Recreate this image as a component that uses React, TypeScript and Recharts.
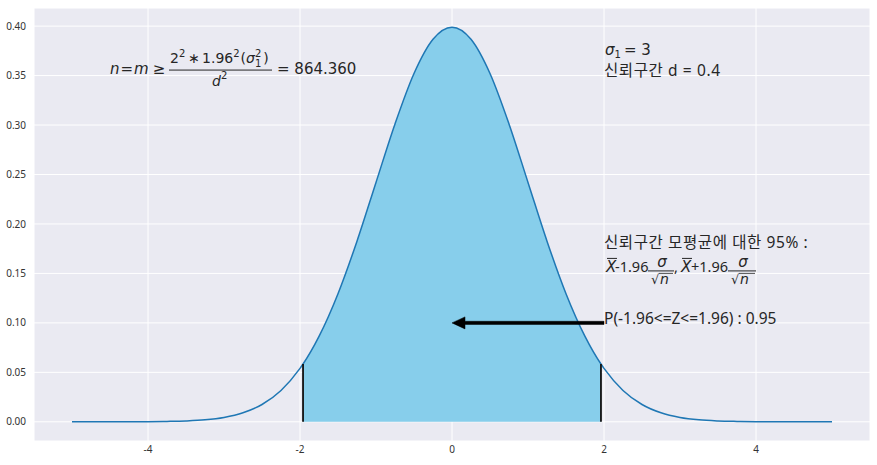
import React from "react";
import {
  ComposedChart,
  Line,
  Area,
  XAxis,
  YAxis,
  CartesianGrid,
  ReferenceLine,
  ReferenceDot,
} from "recharts";

// x values (z) and standard-normal density
const xs: number[] = [
  -5, -4.75, -4.5, -4.25, -4, -3.75, -3.5, -3.25, -3, -2.75, -2.5, -2.25, -2, -1.96,
  -1.75, -1.5, -1.25, -1, -0.75, -0.5, -0.25, 0, 0.25, 0.5, 0.75, 1, 1.25, 1.5, 1.75,
  1.96, 2, 2.25, 2.5, 2.75, 3, 3.25, 3.5, 3.75, 4, 4.25, 4.5, 4.75, 5,
];
const density: number[] = [
  0.0, 0.0, 0.0, 0.0, 0.0001, 0.0004, 0.0009, 0.002, 0.0044, 0.0091, 0.0175, 0.0317,
  0.054, 0.0584, 0.0863, 0.1295, 0.1826, 0.242, 0.3011, 0.3521, 0.3867, 0.3989, 0.3867,
  0.3521, 0.3011, 0.242, 0.1826, 0.1295, 0.0863, 0.0584, 0.054, 0.0317, 0.0175, 0.0091,
  0.0044, 0.002, 0.0009, 0.0004, 0.0001, 0.0, 0.0, 0.0, 0.0,
];
const zLow = -1.96;
const zHigh = 1.96;
const zHeight = 0.0584;
const arrowFrom = { x: 2, y: 0.1 };
const arrowTo = { x: 0, y: 0.1 };
const xTicks = [-4, -2, 0, 2, 4];
const yTicks = [0, 0.05, 0.1, 0.15, 0.2, 0.25, 0.3, 0.35, 0.4];
const yTickLabels = ["0.00", "0.05", "0.10", "0.15", "0.20", "0.25", "0.30", "0.35", "0.40"];
const probText = "P(-1.96<=Z<=1.96) : 0.95";
const sigmaLine2 = "신뢰구간 d = 0.4";
const ciLine1 = "신뢰구간 모평균에 대한 95% :";

const data = xs.map((x, i) => ({
  x,
  pdf: density[i],
  band: x >= zLow && x <= zHigh ? density[i] : null,
}));

const FONT = "'Noto Sans', 'Noto Sans CJK KR', sans-serif";
const MATH = "'DejaVu Sans', sans-serif";
const TXT = "#262626";

const Formula1 = (p: any) => {
  const { cx, cy } = p;
  const B = cy - 2;
  const base = { fontFamily: MATH, fontSize: 15, fill: TXT };
  const ny = cy - 12.5;
  return (
    <g>
      <text x={cx} y={B} {...base}>
        <tspan fontStyle="italic">n</tspan>
        <tspan dx={1}>=</tspan>
        <tspan dx={1} fontStyle="italic">m</tspan>
        <tspan dx={4}>≥</tspan>
      </text>
      <text x={cx + 60} y={ny} fontFamily={MATH} fontSize={14} fill={TXT}>
        <tspan>2</tspan>
        <tspan dy={-6.5} fontSize={10}>2</tspan>
        <tspan dy={6.5} dx={3}>∗</tspan>
        <tspan dx={2}>1.96</tspan>
        <tspan dy={-6.5} fontSize={10}>2</tspan>
        <tspan dy={6.5} dx={1}>(</tspan>
        <tspan fontStyle="italic">σ</tspan>
        <tspan dy={-6.5} fontSize={10}>2</tspan>
        <tspan dx={-6.4} dy={10.5} fontSize={10}>1</tspan>
        <tspan dx={2} dy={-4}>)</tspan>
      </text>
      <line x1={cx + 59} x2={cx + 162} y1={cy - 5.5} y2={cy - 5.5} stroke={TXT} strokeWidth={1} />
      <text x={cx + 102} y={cy + 10} fontFamily={MATH} fontSize={14} fill={TXT}>
        <tspan fontStyle="italic">d</tspan>
        <tspan dy={-6.5} fontSize={10}>2</tspan>
      </text>
      <text x={cx + 167} y={B} {...base}>= 864.360</text>
    </g>
  );
};

const SigmaBlock = (p: any) => {
  const { cx, cy } = p;
  return (
    <g>
      <text x={cx + 1} y={cy - 21} fontFamily={MATH} fontSize={15} fill={TXT}>
        <tspan fontStyle="italic">σ</tspan>
        <tspan dy={3.5} fontSize={10}>1</tspan>
        <tspan dy={-3.5} dx={3}>= 3</tspan>
      </text>
      <text x={cx} y={cy} fontFamily={FONT} fontSize={15.5} letterSpacing={0.6} fill={TXT}>
        {sigmaLine2}
      </text>
    </g>
  );
};

const Frac = ({ x, y, w }: any) => {
  const m = { fontFamily: MATH, fill: TXT };
  return (
    <g>
      <text x={x + w / 2 + 1} y={y - 5} {...m} fontSize={15} fontStyle="italic" textAnchor="middle">σ</text>
      <line x1={x} x2={x + w} y1={y - 1.5} y2={y - 1.5} stroke={TXT} strokeWidth={1} />
      <text x={x + 3} y={y + 12} {...m} fontSize={13}>√</text>
      <line x1={x + 11} x2={x + w - 1} y1={y + 1} y2={y + 1} stroke={TXT} strokeWidth={0.8} />
      <text x={x + 12} y={y + 12} {...m} fontSize={14} fontStyle="italic">n</text>
    </g>
  );
};

const CIBlock = (p: any) => {
  const { cx, cy } = p;
  const B = cy - 1;
  const m = { fontFamily: MATH, fontSize: 15, fill: TXT };
  const r = { fontFamily: FONT, fontSize: 14.5, fill: TXT };
  return (
    <g>
      <text x={cx} y={cy - 25} fontFamily={FONT} fontSize={15.5} letterSpacing={0.6} fill={TXT}>
        {ciLine1}
      </text>
      <text x={cx + 2} y={B} {...m} fontStyle="italic">X</text>
      <line x1={cx + 3} x2={cx + 13} y1={B - 14} y2={B - 14} stroke={TXT} strokeWidth={1} />
      <text x={cx + 11} y={B} {...r}>-1.96</text>
      <Frac x={cx + 44} y={B} w={26} />
      <text x={cx + 70} y={B} {...r}>,</text>
      <text x={cx + 77} y={B} {...m} fontStyle="italic">X</text>
      <line x1={cx + 78} x2={cx + 88} y1={B - 14} y2={B - 14} stroke={TXT} strokeWidth={1} />
      <text x={cx + 87} y={B} {...r}>+1.96</text>
      <Frac x={cx + 124} y={B} w={28} />
    </g>
  );
};

const ProbLabel = (p: any) => {
  const { cx, cy } = p;
  return (
    <text x={cx} y={cy + 1.5} fontFamily={FONT} fontSize={15.5} fill={TXT}>
      {probText}
    </text>
  );
};

const Arrow = (p: any) => {
  const { x1, y1, x2, y2 } = p;
  const head = 13;
  const hw = 6;
  const sw = 1.6;
  const dir = x2 < x1 ? 1 : -1;
  const hb = x2 + dir * head;
  const pts = [
    [x1, y1 - sw],
    [hb, y2 - sw],
    [hb, y2 - hw],
    [x2, y2],
    [hb, y2 + hw],
    [hb, y2 + sw],
    [x1, y1 + sw],
  ]
    .map((q) => q.join(","))
    .join(" ");
  return <polygon points={pts} fill="#000" stroke="#000" strokeWidth={0.5} strokeLinejoin="miter" />;
};

export default function App() {
  return (
    <div style={{ position: "fixed", left: 0, top: 0, width: 877, height: 465, background: "#fff" }}>
      <ComposedChart
        width={877}
        height={465}
        data={data}
        margin={{ top: 8, right: 7, bottom: 0, left: 0 }}
      >
        <CartesianGrid fill="#eaeaf2" stroke="#ffffff" strokeWidth={1} />
        <XAxis
          dataKey="x"
          type="number"
          domain={[-5.5, 5.5]}
          ticks={xTicks}
          axisLine={false}
          tickLine={false}
          tickSize={4}
          tickMargin={1}
          height={24}
          tick={{ fontFamily: FONT, fontSize: 10, fill: "#333" }}
          allowDataOverflow
        />
        <YAxis
          type="number"
          domain={[-0.0194, 0.4183]}
          ticks={yTicks}
          tickFormatter={(v: number) => yTickLabels[yTicks.indexOf(v)] ?? String(v)}
          axisLine={false}
          tickLine={false}
          width={34}
          tick={{ fontFamily: FONT, fontSize: 10, fill: "#333" }}
          allowDataOverflow
        />
        <Area
          dataKey="band"
          type="monotone"
          fill="#87ceeb"
          fillOpacity={1}
          stroke="none"
          baseValue={0}
          isAnimationActive={false}
          connectNulls={false}
        />
        <Line
          dataKey="pdf"
          type="monotone"
          stroke="#1f77b4"
          strokeWidth={1.5}
          dot={false}
          isAnimationActive={false}
        />
        <ReferenceLine
          segment={[
            { x: zLow, y: 0 },
            { x: zLow, y: zHeight },
          ]}
          stroke="#111"
          strokeWidth={1.8}
        />
        <ReferenceLine
          segment={[
            { x: zHigh, y: 0 },
            { x: zHigh, y: zHeight },
          ]}
          stroke="#111"
          strokeWidth={1.8}
        />
        <ReferenceLine segment={[arrowFrom, arrowTo]} shape={(p: any) => <Arrow {...p} />} />
        <ReferenceDot x={-4.5} y={0.35} r={1} shape={(p: any) => <Formula1 {...p} />} />
        <ReferenceDot x={2} y={0.35} r={1} shape={(p: any) => <SigmaBlock {...p} />} />
        <ReferenceDot x={2} y={0.15} r={1} shape={(p: any) => <CIBlock {...p} />} />
        <ReferenceDot x={2} y={0.1} r={1} shape={(p: any) => <ProbLabel {...p} />} />
      </ComposedChart>
    </div>
  );
}
